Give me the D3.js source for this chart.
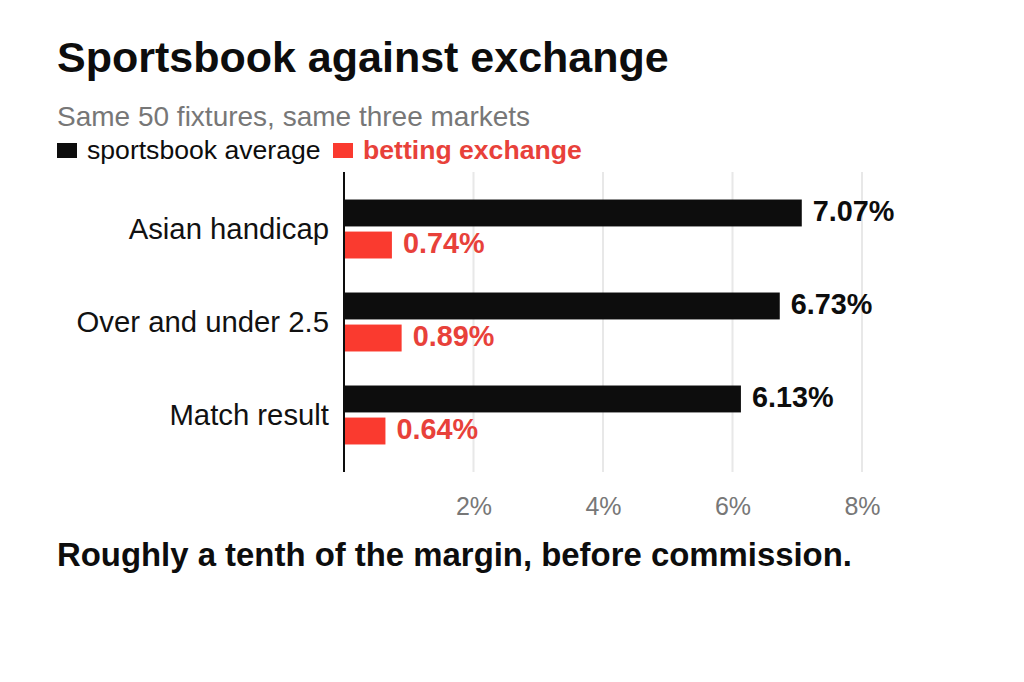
<!DOCTYPE html>
<html>
<head>
<meta charset="utf-8">
<script src="https://cdn.jsdelivr.net/npm/d3@7"></script>
<style>
  body { margin: 0; background: #fff; }
  svg text { font-family: "Liberation Sans", Arial, sans-serif; }
</style>
</head>
<body>
<svg id="chart" width="1024" height="682" viewBox="0 0 1024 682"></svg>
<script>
// chart data
const markets = ["Asian handicap", "Over and under 2.5", "Match result"];
const seriesNames = ["sportsbook average", "betting exchange"];
const sportsbook = [7.07, 6.73, 6.13];
const exchange = [0.74, 0.89, 0.64];
const tickValues = [2, 4, 6, 8];

const svg = d3.select("#chart");
const black = "#0d0d0d", red = "#fa3a2f", redText = "#e8413a", grey = "#777";

// title block
svg.append("text").attr("x", 57).attr("y", 72)
    .attr("font-size", 43).attr("font-weight", "bold").attr("fill", black)
    .text("Sportsbook against exchange");
svg.append("text").attr("x", 57).attr("y", 126)
    .attr("font-size", 28).attr("fill", grey)
    .text("Same 50 fixtures, same three markets");

// legend
const legend = svg.append("g");
legend.append("rect").attr("x", 57).attr("y", 143).attr("width", 20).attr("height", 15).attr("fill", black);
legend.append("text").attr("x", 87).attr("y", 159).attr("font-size", 26.6).attr("fill", black).text(seriesNames[0]);
legend.append("rect").attr("x", 333).attr("y", 143).attr("width", 20).attr("height", 15).attr("fill", red);
legend.append("text").attr("x", 363).attr("y", 159).attr("font-size", 26.6).attr("font-weight", "bold")
    .attr("fill", redText).text(seriesNames[1]);

// scales
const x = d3.scaleLinear().domain([0, 8]).range([344, 862]);
const y = d3.scaleBand().domain(markets).range([172, 472]).paddingInner(0.366).paddingOuter(0.296);
const sub = d3.scaleBand().domain(seriesNames).range([0, y.bandwidth()]).paddingInner(0.16);

// gridlines
svg.append("g").selectAll("line").data(tickValues).enter().append("line")
    .attr("x1", d => x(d)).attr("x2", d => x(d))
    .attr("y1", 172).attr("y2", 472)
    .attr("stroke", "#e8e8e8").attr("stroke-width", 2);

// x axis tick labels
const xAxis = svg.append("g").attr("transform", "translate(0,472)")
    .call(d3.axisBottom(x).tickValues(tickValues).tickFormat(d => d + "%").tickSize(0).tickPadding(25));
xAxis.select(".domain").remove();
xAxis.selectAll("text").attr("font-size", 25).attr("fill", grey)
    .style("font-family", '"Liberation Sans", Arial, sans-serif');

// category labels
svg.append("g").selectAll("text").data(markets).enter().append("text")
    .attr("x", 329).attr("y", d => y(d) + y.bandwidth() / 2 + 10)
    .attr("text-anchor", "end").attr("font-size", 29.3).attr("fill", "#111")
    .text(d => d);

// bars
const rows = markets.map((m, i) => ({ market: m, values: [
    { series: seriesNames[0], v: sportsbook[i] },
    { series: seriesNames[1], v: exchange[i] }
]}));

const groups = svg.append("g").selectAll("g").data(rows).enter().append("g")
    .attr("transform", d => `translate(0,${y(d.market)})`);

groups.selectAll("rect").data(d => d.values).enter().append("rect")
    .attr("x", x(0)).attr("y", d => sub(d.series))
    .attr("width", d => x(d.v) - x(0)).attr("height", sub.bandwidth())
    .attr("fill", d => d.series === seriesNames[0] ? black : red);

groups.selectAll("text").data(d => d.values).enter().append("text")
    .attr("x", d => x(d.v) + 11).attr("y", d => sub(d.series) + sub.bandwidth() / 2 + 8)
    .attr("font-size", 28.8).attr("font-weight", "bold")
    .attr("fill", d => d.series === seriesNames[0] ? black : redText)
    .text(d => d.v.toFixed(2) + "%");

// axis line
svg.append("line").attr("x1", x(0)).attr("x2", x(0)).attr("y1", 172).attr("y2", 472)
    .attr("stroke", black).attr("stroke-width", 2);

// footer
svg.append("text").attr("x", 57).attr("y", 566)
    .attr("font-size", 32.9).attr("font-weight", "bold").attr("fill", black)
    .text("Roughly a tenth of the margin, before commission.");
</script>
</body>
</html>
